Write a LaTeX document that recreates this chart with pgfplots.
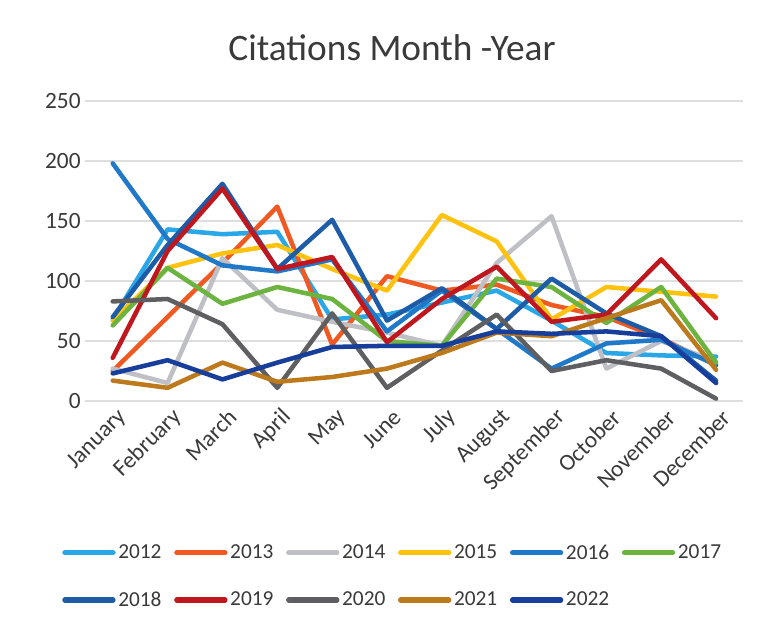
\documentclass[border=0pt]{standalone}
\usepackage{pgfplots}
\pgfplotsset{compat=1.18}
\usepackage{pgfplotstable}
\usepackage{fontspec}
\setmainfont{Carlito}
\definecolor{c2012}{HTML}{2AA7E6}
\definecolor{c2013}{HTML}{F05A22}
\definecolor{c2014}{HTML}{BFC0C6}
\definecolor{c2015}{HTML}{FFC20E}
\definecolor{c2016}{HTML}{1F78C8}
\definecolor{c2017}{HTML}{6DB33F}
\definecolor{c2018}{HTML}{1E5CA8}
\definecolor{c2019}{HTML}{C0161D}
\definecolor{c2020}{HTML}{5F5F62}
\definecolor{c2021}{HTML}{BC7A1C}
\definecolor{c2022}{HTML}{163E9A}
\definecolor{txt}{HTML}{3A3A3A}
\pgfplotstableread{
m  y2012 y2013 y2014 y2015 y2016 y2017 y2018 y2019 y2020 y2021 y2022
0  68    25    27    67    198   63    70    36    83    17    23
1  143   70    15    111   135   111   130   125   85    11    34
2  139   115   119   123   113   81    181   177   64    32    18
3  141   162   76    130   108   95    110   110   11    16    32
4  68    47    66    110   118   85    151   120   73    20    45
5  72    104   57    92    58    50    67    49    11    27    46
6  82    92    46    155   92    46    94    85    42    40    46
7  92    97    115   133   60    102   60    112   72    57    58
8  67    80    154   68    27    95    102   66    25    54    56
9  40    70    27    95    48    65    73    72    34    69    58
10 38    52    50    91    51    95    54    118   27    84    54
11 37    30    33    87    30    32    17    69    2     26    15
}\data
\begin{document}
\begin{tikzpicture}
\fill[white] (0,0) rectangle (585pt,474pt);
\node[font=\fontsize{28}{32}\selectfont, text=txt] at (294pt,438pt) {Citations Month -Year};
\begin{axis}[
  at={(64pt,173.25pt)}, anchor=south west,
  scale only axis, width=493.6pt, height=225pt,
  xmin=-0.5, xmax=11.5, ymin=0, ymax=250,
  xtick={0,...,11},
  xticklabels={January,February,March,April,May,June,July,August,September,October,November,December},
  ytick={0,50,...,250},
  axis line style={draw=none},
  major tick length=0pt,
  ymajorgrids, grid style={draw=black!13, line width=0.8pt},
  tick label style={font=\fontsize{17.5}{20}\selectfont, text=txt},
  /pgf/number format/assume math mode=true,
  yticklabel style={xshift=0pt},
  xticklabel style={xshift=10pt, yshift=-7pt, rotate=45, anchor=east},
  every axis plot/.append style={line width=3.4pt, line join=round, line cap=round},
  legend columns=6,
  legend style={at={(-0.0415,-0.46)}, anchor=north west, draw=none, fill=none,
    font=\fontsize{16}{19}\selectfont, text=txt,
    /tikz/every even column/.append style={column sep=7.5pt},
    /tikz/every odd column/.append style={column sep=0pt},
    row sep=19pt, cells={anchor=west}},
  legend image code/.code={\draw[#1, line width=4pt, line cap=round] (0pt,0pt) -- (36pt,0pt);},
]
\addplot[c2012] table[x=m,y=y2012] {\data};
\addplot[c2013] table[x=m,y=y2013] {\data};
\addplot[c2014] table[x=m,y=y2014] {\data};
\addplot[c2015] table[x=m,y=y2015] {\data};
\addplot[c2016] table[x=m,y=y2016] {\data};
\addplot[c2017] table[x=m,y=y2017] {\data};
\addplot[c2018] table[x=m,y=y2018] {\data};
\addplot[c2019] table[x=m,y=y2019] {\data};
\addplot[c2020] table[x=m,y=y2020] {\data};
\addplot[c2021] table[x=m,y=y2021] {\data};
\addplot[c2022] table[x=m,y=y2022] {\data};
\legend{2012,2013,2014,2015,2016,2017,2018,2019,2020,2021,2022}
\end{axis}
\end{tikzpicture}
\end{document}
